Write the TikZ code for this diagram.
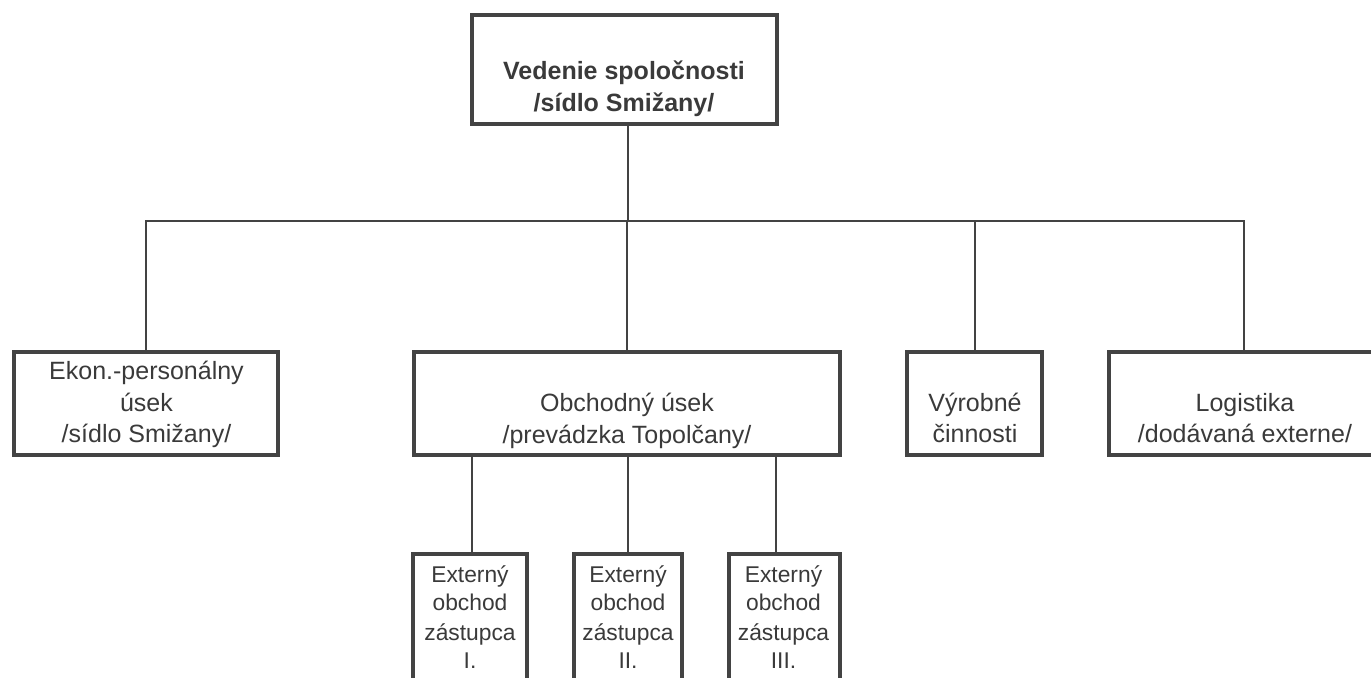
\documentclass[tikz,border=0pt]{standalone}
\usepackage{fontspec}
\setmainfont{Liberation Sans}
\definecolor{lc}{HTML}{434343}
\definecolor{tc}{HTML}{3A3A3A}
\tikzset{
  box/.style={draw=lc, line width=2.2pt, inner sep=0pt, outer sep=0pt, fill=white},
  conn/.style={draw=lc, line width=1pt},
  big/.style={text=tc, inner sep=0pt, anchor=base, font=\fontsize{12.5pt}{15pt}\selectfont},
  bigb/.style={text=tc, inner sep=0pt, anchor=base, font=\fontsize{12.5pt}{15pt}\selectfont\bfseries},
  small/.style={text=tc, inner sep=0pt, anchor=base, font=\fontsize{11.4pt}{14pt}\selectfont},
}
\begin{document}
\begin{tikzpicture}[x=0.5pt, y=-0.5pt]
\clip (0,0) rectangle (1371,678);
\fill[white] (0,0) rectangle (1371,678);
% boxes
\node[box, minimum width=152.5pt, minimum height=54.5pt] (top) at (624.5,69.5) {};
\node[box, minimum width=132pt, minimum height=51.5pt] (ekon) at (146,403.5) {};
\node[box, minimum width=213pt, minimum height=51.5pt] (obch) at (627,403.5) {};
\node[box, minimum width=67.5pt, minimum height=51.5pt] (vyrob) at (974.5,403.5) {};
\node[box, minimum width=135pt, minimum height=51.5pt] (logi) at (1244,403.5) {};
\node[box, minimum width=57pt, minimum height=73pt] (ext1) at (470,627) {};
\node[box, minimum width=54pt, minimum height=73pt] (ext2) at (628,627) {};
\node[box, minimum width=55.5pt, minimum height=73pt] (ext3) at (784.5,627) {};
% connector helper coordinates
\coordinate (bus) at (628,221);
\coordinate (c1) at (472,554);
\coordinate (c3) at (776,554);
% connectors
\draw[conn] (top.south -| bus) -- (bus);
\draw[conn] (ekon.north) |- (logi.north |- bus) -- (logi.north);
\draw[conn] (obch.north) -- (obch.north |- bus);
\draw[conn] (vyrob.north) -- (vyrob.north |- bus);
\draw[conn] (obch.south -| c1) -- (c1);
\draw[conn] (obch.south -| ext2.north) -- (ext2.north);
\draw[conn] (obch.south -| c3) -- (c3);
% texts
\node[bigb] (ta1) at (624,80) {Vedenie spoločnosti};
\node[bigb] (ta2) at (624,112) {/sídlo Smižany/};
\node[big] (tb1) at (146.5,380) {Ekon.-personálny};
\node[big] (tb2) at (146.5,412) {úsek};
\node[big] (tb3) at (146.5,443) {/sídlo Smižany/};
\node[big] (tc1) at (627,412) {Obchodný úsek};
\node[big] (tc2) at (627,444) {/prevádzka Topolčany/};
\node[big] (td1) at (975,412) {Výrobné};
\node[big] (td2) at (975,443) {činnosti};
\node[big] (te1) at (1245,412) {Logistika};
\node[big] (te2) at (1245,443) {/dodávaná externe/};
\node[small] (tf1) at (470,582) {Externý};
\node[small] (tf2) at (470,610) {obchod};
\node[small] (tf3) at (470,640) {zástupca};
\node[small] (tf4) at (470,668) {I.};
\node[small] (tg1) at (628,582) {Externý};
\node[small] (tg2) at (628,610) {obchod};
\node[small] (tg3) at (628,640) {zástupca};
\node[small] (tg4) at (628,668) {II.};
\node[small] (th1) at (783.5,582) {Externý};
\node[small] (th2) at (783.5,610) {obchod};
\node[small] (th3) at (783.5,640) {zástupca};
\node[small] (th4) at (783.5,668) {III.};
\end{tikzpicture}
\end{document}
